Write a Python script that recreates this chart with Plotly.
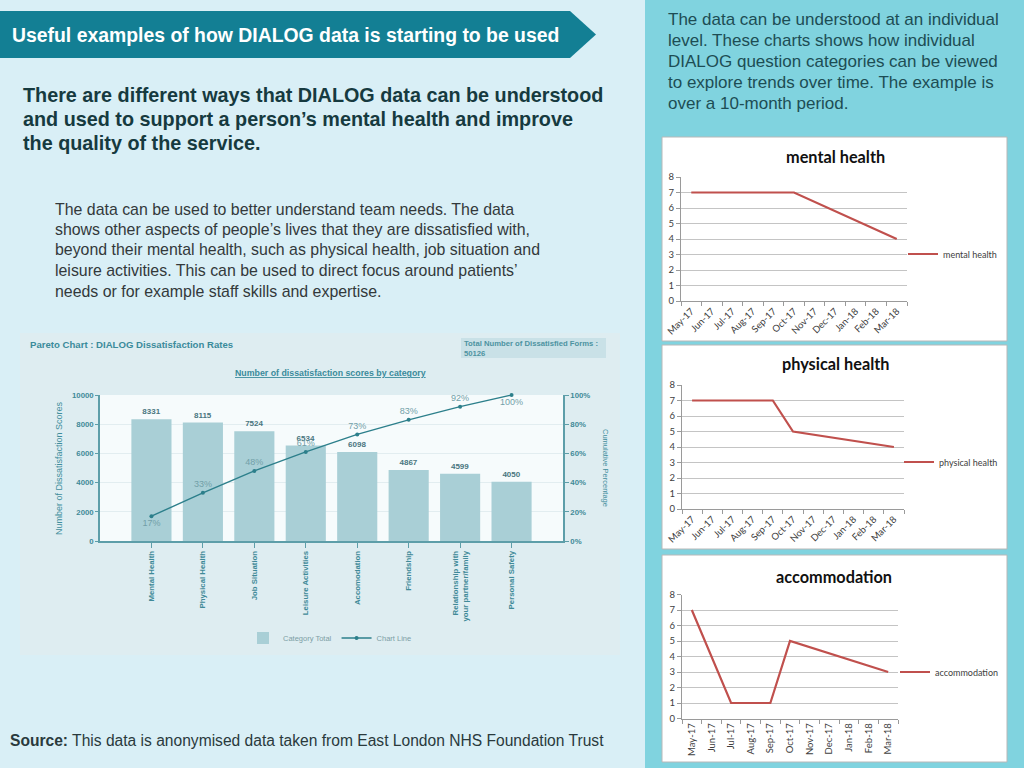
import plotly.graph_objects as go

# ---------------- data ----------------
categories = ["Mental Health", "Physical Health", "Job Situation", "Leisure Activities",
              "Accomodation", "Friendship", "Relationship with<br>your partner/family", "Personal Safety"]
category_totals = [8331, 8115, 7524, 6534, 6098, 4867, 4599, 4050]
cumulative_pct = [17, 33, 48, 61, 73, 83, 92, 100]
total_forms = "50126"

months = ["May-17", "Jun-17", "Jul-17", "Aug-17", "Sep-17", "Oct-17",
          "Nov-17", "Dec-17", "Jan-18", "Feb-18", "Mar-18"]
mental_health = [7, 7, 7, 7, 7, 7, None, None, None, None, 4]
physical_health = [7, 7, 7, 7, 7, 5, None, None, None, None, 4]
accommodation = [7, None, 1, 1, 1, 5, None, None, None, None, 3]

subtitle_lines = ["There are different ways that DIALOG data can be understood",
                  "and used to support a person’s mental health and improve",
                  "the quality of the service."]
body_lines = ["The data can be used to better understand team needs. The data",
              "shows other aspects of people’s lives that they are dissatisfied with,",
              "beyond their mental health, such as physical health, job situation and",
              "leisure activities. This can be used to direct focus around patients’",
              "needs or for example staff skills and expertise."]
right_lines = ["The data can be understood at an individual",
               "level. These charts shows how individual",
               "DIALOG question categories can be viewed",
               "to explore trends over time. The example is",
               "over a 10-month period."]

W, H = 1024, 768


def px(x):
    return x / W


def py(y):
    return 1 - y / H


def rect(x0, y0, x1, y1, color, line=None, lw=0):
    return dict(type="rect", xref="paper", yref="paper", x0=px(x0), x1=px(x1),
                y0=py(y1), y1=py(y0), fillcolor=color, layer="below",
                line=dict(color=line or color, width=lw))


SLIDE_FONT = "Liberation Sans, Arial, sans-serif"
NARROW = "Liberation Sans Narrow, Liberation Sans, Arial, sans-serif"
XL_FONT = "Lato, Carlito, Open Sans, sans-serif"
TEAL = "#3f8e9c"

fig = go.Figure()

# ---------------- Pareto chart ----------------
fig.add_trace(go.Bar(
    x=categories, y=category_totals, name="Category Total",
    marker=dict(color="#a9cfd6", line=dict(width=0)), width=0.78,
    text=[str(v) for v in category_totals], textposition="outside",
    textfont=dict(family=NARROW, size=8, color="#4a7680", weight="bold"),
    cliponaxis=False, xaxis="x", yaxis="y", legend="legend"))

pct_pos = ["bottom center", "top center", "top center", "top center",
           "top center", "top center", "top center", "bottom center"]
fig.add_trace(go.Scatter(
    x=categories, y=cumulative_pct, name="Chart Line",
    mode="lines+markers+text", line=dict(color="#2c7f8b", width=1.4),
    marker=dict(size=4, color="#2c7f8b"),
    text=[f"{v}%" for v in cumulative_pct], textposition=pct_pos,
    textfont=dict(family=NARROW, size=9, color="#729fa8"),
    cliponaxis=False, xaxis="x", yaxis="y2", legend="legend"))

# ---------------- small line charts ----------------
line_red = "#c0504d"
for name, vals, xa, ya, lg in [
    ("mental health", mental_health, "x2", "y3", "legend2"),
    ("physical health", physical_health, "x3", "y4", "legend3"),
    ("accommodation", accommodation, "x4", "y5", "legend4"),
]:
    fig.add_trace(go.Scatter(
        x=months, y=vals, name=name, mode="lines", connectgaps=True,
        line=dict(color=line_red, width=2.2), xaxis=xa, yaxis=ya, legend=lg))

# ---------------- shapes ----------------
shapes = [
    rect(645, 0, 1024, 768, "#80d3df"),
    rect(20, 333, 620, 655, "#deedf1"),
    rect(100, 395, 563, 541, "#f6fbfc"),
    rect(461, 338, 606, 358, "#c9e1e7"),
    rect(662, 137, 1007, 341, "#ffffff", "#b8b8b8", 1),
    rect(662, 345, 1007, 549, "#ffffff", "#b8b8b8", 1),
    rect(662, 555, 1007, 762, "#ffffff", "#b8b8b8", 1),
]
# banner arrow
pts = [(0, 11), (570, 11), (596, 34.5), (570, 58), (0, 58)]
path = "M " + " L ".join(f"{px(a):.5f},{py(b):.5f}" for a, b in pts) + " Z"
shapes.append(dict(type="path", xref="paper", yref="paper", path=path,
                   fillcolor="#137f94", line=dict(width=0), layer="below"))


def ann(x, y, text, size, color, family=SLIDE_FONT, xanchor="left", yanchor="middle",
        align="left", textangle=0):
    return dict(xref="paper", yref="paper", x=px(x), y=py(y), text=text,
                showarrow=False, xanchor=xanchor, yanchor=yanchor, align=align,
                textangle=textangle, font=dict(family=family, size=size, color=color))


def text_block(x, y0, dy, lines, size, color, bold=False):
    out = []
    for i, t in enumerate(lines):
        s = f"<b>{t}</b>" if bold else t
        out.append(ann(x, y0 + i * dy, s, size, color))
    return out


annotations = [
    ann(10, 35, "<b>Useful examples of how DIALOG data is starting to be used</b>", 19.4, "#ffffff"),
    ann(8, 740, "<b>Source:</b> This data is anonymised data taken from East London NHS Foundation Trust",
        15.6, "#2a3a3d"),
    # pareto texts
    ann(28, 344, "<b>Pareto Chart : DIALOG Dissatisfaction Rates</b>", 9.6, "#3a8b9b", NARROW),
    ann(462, 348, "<b>Total Number of Dissatisfied Forms :<br>" + total_forms + "</b>", 7.7, "#4d93a1", NARROW),
    ann(330, 373, "<b><u>Number of dissatisfaction scores by category</u></b>", 8.8, "#3a8b9b", NARROW,
        xanchor="center"),
    ann(59, 468, "Number of Dissatisfaction Scores", 9, TEAL, NARROW, xanchor="center",
        textangle=-90),
    ann(606, 468, "Cumulative Percentage", 7.5, TEAL, NARROW, xanchor="center", textangle=90),
    # small chart titles
    ann(835, 156, "<b>mental health</b>", 16.3, "#111111", XL_FONT, xanchor="center"),
    ann(835, 363, "<b>physical health</b>", 16.3, "#111111", XL_FONT, xanchor="center"),
    ann(834, 576, "<b>accommodation</b>", 16.3, "#111111", XL_FONT, xanchor="center"),
]
annotations += text_block(21, 95, 24, subtitle_lines, 19.8, "#163a3f", bold=True)
annotations += text_block(53, 209, 20.5, body_lines, 15.9, "#33393b")
annotations += text_block(666, 20, 20.8, right_lines, 17, "#1d4d54")

# ---------------- axes ----------------
tick_font = dict(family=NARROW, size=7.8, color="#3f8a98", weight="bold")
pareto_x = dict(domain=[px(100), px(563)], anchor="y", type="category", range=[-1, 8],
                showline=True, linecolor="#5d9ea9", linewidth=1.5, ticks="outside",
                ticklen=5, tickcolor="#5d9ea9", tickangle=-90,
                tickfont=tick_font, showgrid=False, fixedrange=True)
pareto_y = dict(domain=[py(541), py(395)], anchor="x", range=[0, 10000], dtick=2000,
                tickformat="d",
                showline=True, linecolor="#5d9ea9", linewidth=1.5, ticks="outside",
                ticklen=3, tickcolor="#5d9ea9", showgrid=True, gridcolor="#e2edf0",
                tickfont=tick_font, zeroline=False)
pareto_y2 = dict(overlaying="y", side="right", anchor="x", range=[0, 100], dtick=20,
                 ticksuffix="%", showline=True, linecolor="#5d9ea9", linewidth=1.5,
                 ticks="outside", ticklen=4, tickcolor="#5d9ea9", showgrid=False,
                 tickfont=tick_font, zeroline=False)


def small_axes(x0, x1, ytop, ybot, yref, xref, angle):
    xa = dict(domain=[px(x0), px(x1)], anchor=yref, type="category",
              categoryorder="array", categoryarray=months,
              range=[-0.5, 10.5], tickson="boundaries", ticks="outside", ticklen=4,
              tickcolor="#9a9a9a", showline=True, linecolor="#9a9a9a", linewidth=1,
              showgrid=False, tickangle=angle,
              tickfont=dict(family=XL_FONT, size=9.5, color="#404040"))
    ya = dict(domain=[py(ybot), py(ytop)], anchor=xref, range=[0, 8], dtick=1,
              showgrid=True, gridcolor="#c4c4c4", gridwidth=1, showline=True,
              linecolor="#9a9a9a", ticks="outside", ticklen=4, tickcolor="#9a9a9a",
              zeroline=False, tickfont=dict(family=XL_FONT, size=9.5, color="#404040"))
    return xa, ya


xa2, ya3 = small_axes(681, 907, 177, 301, "y3", "x2", -45)
xa3, ya4 = small_axes(682, 904, 385, 509, "y4", "x3", -45)
xa4, ya5 = small_axes(682, 898, 594.5, 718.5, "y5", "x4", -90)


def small_legend(x, y):
    return dict(x=px(x), y=py(y), xanchor="left", yanchor="middle",
                bgcolor="rgba(0,0,0,0)", itemwidth=30,
                font=dict(family=XL_FONT, size=9, color="#404040"))


fig.update_layout(
    width=W, height=H, autosize=False,
    margin=dict(l=0, r=0, t=0, b=0, pad=0, autoexpand=False),
    paper_bgcolor="#d9eff6", plot_bgcolor="rgba(0,0,0,0)",
    xaxis=pareto_x, yaxis=pareto_y, yaxis2=pareto_y2,
    xaxis2=xa2, yaxis3=ya3, xaxis3=xa3, yaxis4=ya4, xaxis4=xa4, yaxis5=ya5,
    shapes=shapes, annotations=annotations,
    bargap=0.2,
    legend=dict(orientation="h", x=px(330), y=py(638), xanchor="center", yanchor="middle",
                bgcolor="rgba(0,0,0,0)", itemwidth=30,
                font=dict(family=NARROW, size=7.5, color="#7d9ea5")),
    legend2=small_legend(903, 254),
    legend3=small_legend(899, 462),
    legend4=small_legend(895, 672),
    showlegend=True,
)

fig.write_html("out.html", config={"displayModeBar": False},
               post_script="document.body.style.margin='0';document.body.style.overflow='hidden';")
